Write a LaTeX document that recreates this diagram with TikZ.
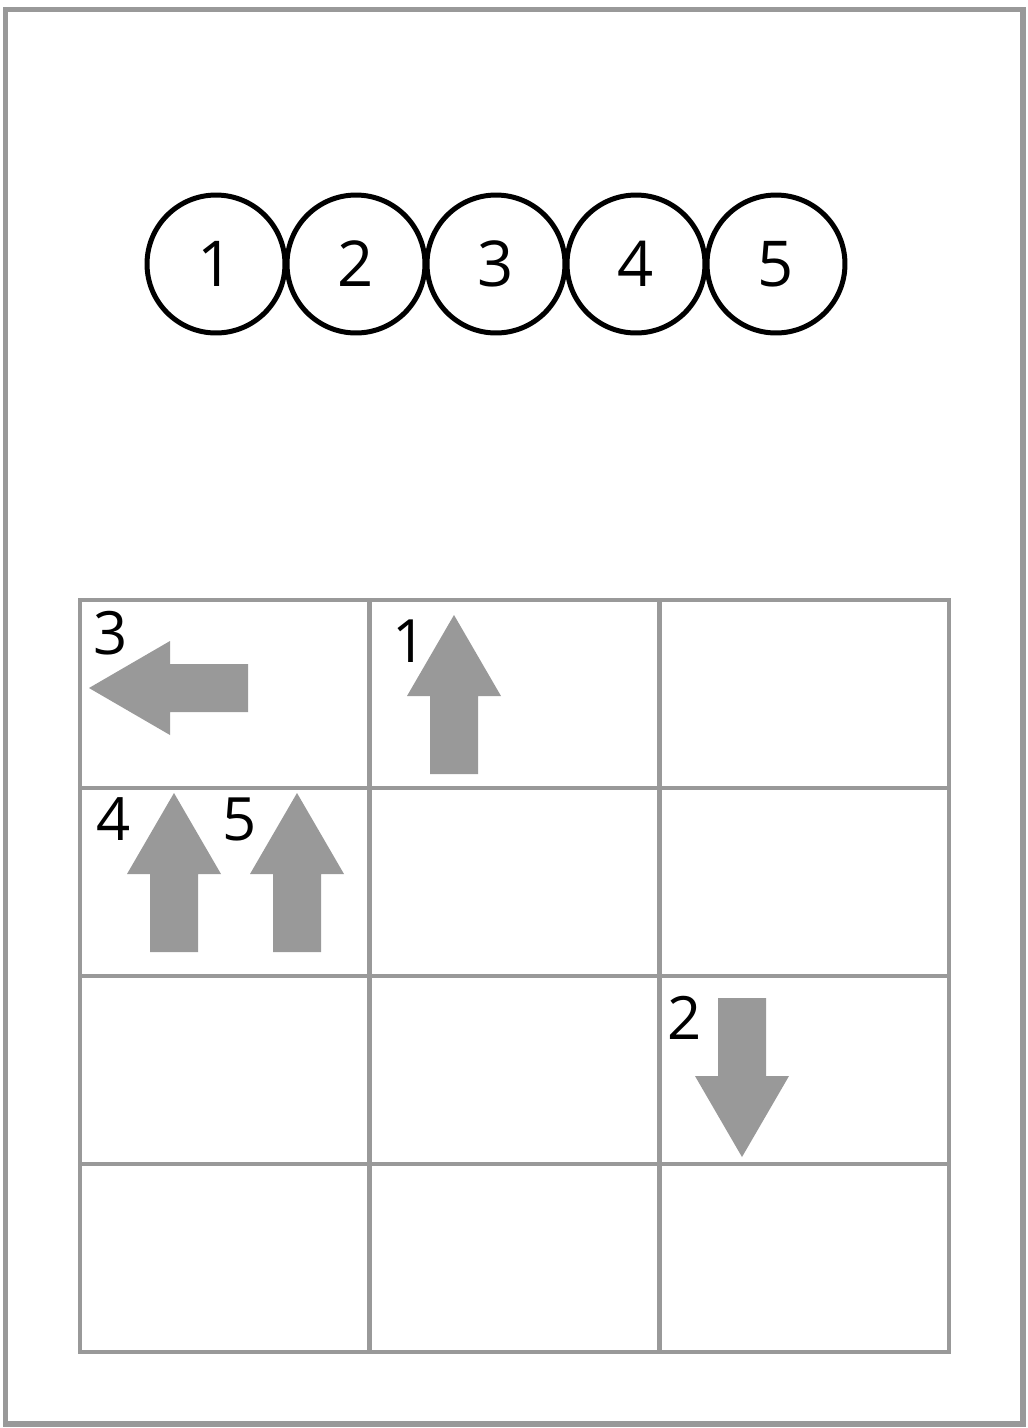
\documentclass[tikz,border=0pt]{standalone}
\usepackage{fontspec}
\setmainfont{Open Sans}
\definecolor{boxgray}{HTML}{999999}
\tikzset{
  ball/.style={circle,draw=black,line width=0.1cm,minimum size=2.76cm,inner sep=0pt,font=\fontsize{36}{42}\selectfont},
  gridline/.style={draw=boxgray,line width=0.09cm},
  movelabel/.style={inner sep=0pt,font=\fontsize{34}{40}\selectfont}
}
% one gray block arrow, tail at (#1,#2), pointing at angle #3
\newcommand{\movearrow}[3]{%
  \fill[boxgray,shift={(#1,#2)},rotate=#3] (0,-24) -- (78,-24) -- (78,-47) -- (159,0) -- (78,47) -- (78,24) -- (0,24) -- cycle;}

\begin{document}
\begin{tikzpicture}[x=0.02cm,y=-0.02cm]
  \useasboundingbox (0,0) rectangle (1028,1428);
  \fill[white] (0,0) rectangle (1028,1428);
  \draw[boxgray,line width=0.11cm] (5.5,9.5) rectangle (1023,1424);
  % the five numbered balls
  \foreach \i in {1,...,5}
    \node[ball] (c\i) at ({216+140*(\i-1)},264) {\i};
  % the board
  \draw[gridline] (80,600) rectangle (949,1352);
  \foreach \x in {369.5,659.5}
    \draw[gridline] (\x,600) -- (\x,1352);
  \foreach \y in {788,976,1164}
    \draw[gridline] (80,\y) -- (949,\y);
  % moves
  \movearrow{248}{688}{180}
  \movearrow{454}{774}{90}
  \movearrow{174}{952}{90}
  \movearrow{297}{952}{90}
  \movearrow{742}{998}{-90}
  \node[movelabel] (l3) at (111,633) {3};
  \node[movelabel] (l1) at (410,641) {1};
  \node[movelabel] (l4) at (114,819) {4};
  \node[movelabel] (l5) at (240,819) {5};
  \node[movelabel] (l2) at (685,1018) {2};
\end{tikzpicture}
\end{document}
